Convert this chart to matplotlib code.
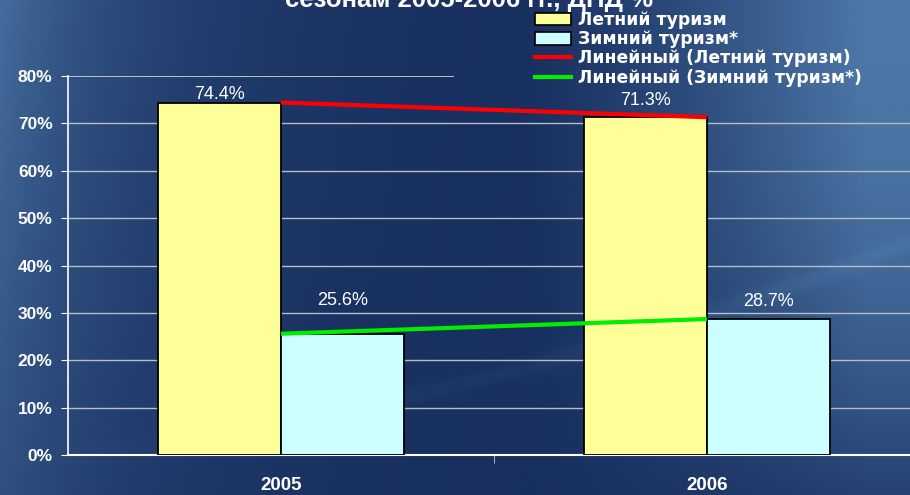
import numpy as np
import matplotlib
matplotlib.use("Agg")
import matplotlib.pyplot as plt
from matplotlib.patches import Patch
from matplotlib.lines import Line2D
from matplotlib.colors import LinearSegmentedColormap

plt.rcParams['font.family'] = ['Liberation Sans', 'DejaVu Sans']

# ---- data ----
years = ["2005", "2006"]
summer = [74.4, 71.3]
winter = [25.6, 28.7]
series_names = ["Летний туризм", "Зимний туризм*"]
trend_names = ["Линейный (Летний туризм)", "Линейный (Зимний туризм*)"]
yticks = [0, 10, 20, 30, 40, 50, 60, 70, 80]
title_text = "сезонам 2005-2006 гг., ДНД %"

# label offsets (points above bar top)
summer_off = [0.0, 6.0]
winter_off = [17.5, 6.5]

W, H = 910, 495
fig = plt.figure(figsize=(W / 100, H / 100), dpi=100, facecolor="#2a4f84")

# ---- background gradient (quad mesh, figure fraction) ----
gx = np.linspace(0, 1, 183)
gy = np.linspace(0, 1, 100)   # 0 = bottom
XX, YY = np.meshgrid(gx, gy)
T = 1 - YY                     # 0 = top
left = 0.85 * np.exp(-XX / 0.16) * (1 - 0.45 * T)
right = np.clip((XX - 0.55) / 0.4, 0, 1) ** 1.3 * (1.0 - 0.75 * T ** 2)
L = np.clip(np.maximum(left, right), 0, 1)
arc = 0.93 - 0.19 * XX ** 1.1 - 0.25 * XX ** 2
band = np.exp(-((T - arc) / 0.02) ** 2) * np.clip(XX * 1.5, 0, 1) * 0.12
Lv = np.clip(L + band, 0, 1.12) / 1.12
cmap = LinearSegmentedColormap.from_list(
    "bgc", [(0, "#172e5e"), (1 / 1.12, "#4c78a8"), (1, "#7d9cc2")])
bgax = fig.add_axes([0, 0, 1, 1], zorder=-10)
bgax.pcolormesh(XX, YY, Lv, cmap=cmap, vmin=0, vmax=1, shading='gouraud')
bgax.set_xlim(0, 1)
bgax.set_ylim(0, 1)
bgax.set_axis_off()

# ---- main axes ----
ax_l, ax_r = 68, 920
ax_b, ax_t = 455, 76
ax = fig.add_axes([ax_l / W, 1 - ax_b / H, (ax_r - ax_l) / W, (ax_b - ax_t) / H])
ax.patch.set_alpha(0)

x = np.arange(len(years))
bw = 0.289
ax.bar(x - bw / 2, summer, bw, color="#ffff99", edgecolor="black", linewidth=1.3, zorder=3)
ax.bar(x + bw / 2, winter, bw, color="#ccffff", edgecolor="black", linewidth=1.3, zorder=3)

# linear trend lines
ps = np.polyfit(x, summer, 1)
pw = np.polyfit(x, winter, 1)
ax.plot(x, np.polyval(ps, x), color="#ff0000", lw=3, zorder=4, solid_capstyle='butt')
ax.plot(x, np.polyval(pw, x), color="#00ee00", lw=3, zorder=4, solid_capstyle='butt')

for i in range(len(years)):
    ax.annotate(f"{summer[i]:.1f}%", (x[i] - bw / 2, summer[i]), xytext=(0, summer_off[i]),
                textcoords="offset points", ha="center", va="bottom", color="white", fontsize=13, zorder=5)
    ax.annotate(f"{winter[i]:.1f}%", (x[i] + bw / 2, winter[i]), xytext=(0, winter_off[i]),
                textcoords="offset points", ha="center", va="bottom", color="white", fontsize=13, zorder=5)

ax.set_xlim(-0.5, 1.5)
ax.set_ylim(0, 80)
ax.set_yticks(yticks)
ax.set_yticklabels([f"{v}%" for v in yticks], color="white", fontsize=12.5, fontweight="bold")
ax.set_xticks(x)
ax.set_xticklabels(years, color="white", fontsize=13.5, fontweight="bold")
ax.tick_params(axis='x', length=0, pad=16)
ax.tick_params(axis='y', length=5, color="white", pad=6)
ax.set_xticks([0.5], minor=True)
ax.tick_params(axis='x', which='minor', length=6, color="#cccccc", direction='out')

for v in yticks[1:-1]:
    ax.axhline(v, color="#b8bcc4", lw=1, zorder=1)
ax.axhline(80, xmax=(453 - ax_l) / (ax_r - ax_l), color="#d8d8d8", lw=1.2, zorder=1)

for s in ["top", "right"]:
    ax.spines[s].set_visible(False)
ax.spines["left"].set_color("white")
ax.spines["bottom"].set_color("white")
ax.spines["left"].set_linewidth(1.2)
ax.spines["bottom"].set_linewidth(1.5)

# ---- legend ----
handles = [Patch(facecolor="#ffff99", edgecolor="black", linewidth=1.2),
           Patch(facecolor="#ccffff", edgecolor="black", linewidth=1.2),
           Line2D([], [], color="#ff0000", lw=3),
           Line2D([], [], color="#00ee00", lw=3)]
fig.legend(handles, series_names + trend_names, loc="upper left",
           bbox_to_anchor=(523 / W, 1 + 1 / H), frameon=False, labelcolor="white",
           prop={'family': 'DejaVu Sans', 'size': 12.4, 'weight': 'bold'},
           handlelength=2.1, handleheight=0.75,
           handletextpad=0.42, labelspacing=0.07, borderpad=0.2)

# ---- cut-off title ----
fig.text(285 / W, 1 - 7 / H, title_text, color="white", fontsize=18.5, fontweight="bold",
         ha="left", va="baseline")

fig.savefig("out.png", dpi=100, facecolor=fig.get_facecolor())
